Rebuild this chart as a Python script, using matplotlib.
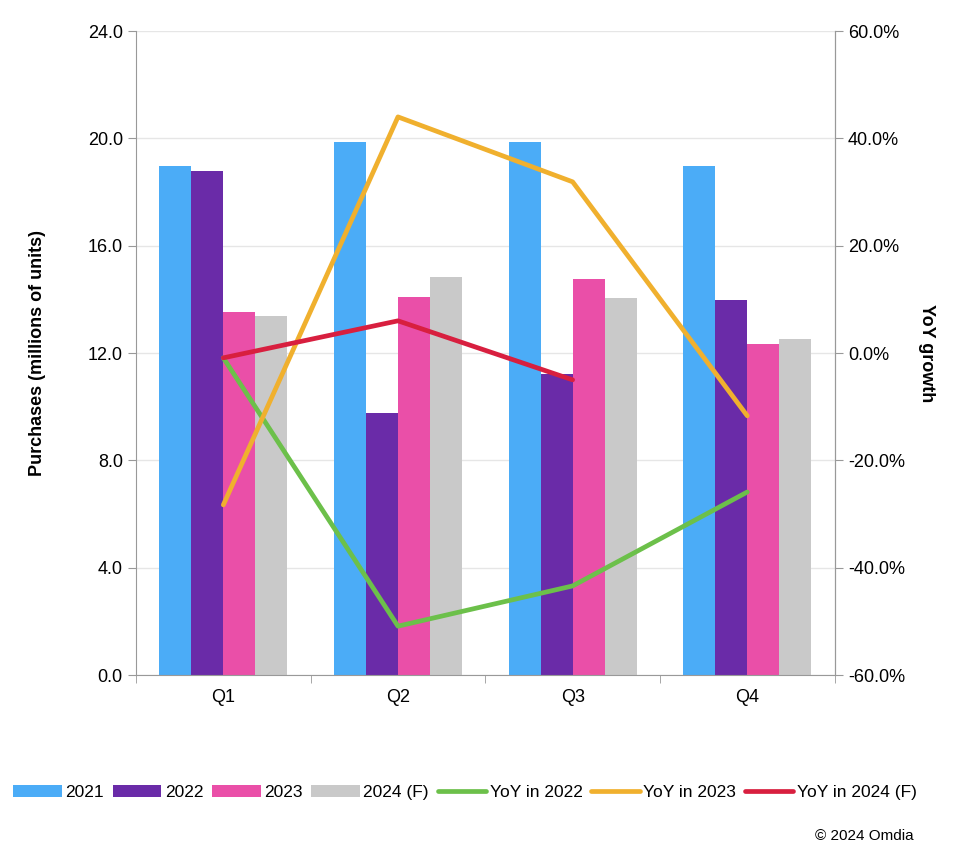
import numpy as np
import matplotlib.pyplot as plt
from matplotlib.ticker import FormatStrFormatter, FuncFormatter

plt.rcParams['font.family'] = ['Liberation Sans', 'DejaVu Sans']

quarters = ['Q1', 'Q2', 'Q3', 'Q4']
years = ['2021', '2022', '2023', '2024 (F)']
purchases = {
    '2021': [18.97, 19.87, 19.87, 18.97],
    '2022': [18.8, 9.77, 11.2, 13.98],
    '2023': [13.53, 14.09, 14.76, 12.34],
    '2024 (F)': [13.38, 14.83, 14.05, 12.52],
}
yoy_labels = ['YoY in 2022', 'YoY in 2023', 'YoY in 2024 (F)']
yoy_2022 = [-0.9, -50.9, -43.4, -25.9]
yoy_2023 = [-28.3, 44.0, 31.9, -11.7]
yoy_2024 = [-0.9, 6.0, -5.0]

bar_colors = ['#4BACF7', '#6A2BA8', '#EA4FA8', '#C9C9C9']
line_colors = ['#6CC04A', '#F0B02E', '#D81F3F']

fig = plt.figure(figsize=(9.75, 8.48), dpi=100)
ax = fig.add_axes([0.1395, 0.204, 0.7165, 0.7594])

x = np.arange(len(quarters))
w = 0.183
for i, yr in enumerate(years):
    ax.bar(x + (i - 1.5) * w, purchases[yr], w, color=bar_colors[i], label=yr, zorder=2)

ax.set_xlim(-0.5, 3.5)
ax.set_ylim(0, 24)
ax.set_yticks(np.arange(0, 25, 4))
ax.yaxis.set_major_formatter(FormatStrFormatter('%.1f'))
ax.set_xticks(x)
ax.set_xticklabels(quarters)
ax.set_xticks(np.arange(-0.5, 4, 1), minor=True)
ax.tick_params(axis='x', which='major', length=0, pad=10, labelsize=13)
ax.tick_params(axis='x', which='minor', length=6, color='#999999')
ax.tick_params(axis='y', length=6, color='#999999', labelsize=13)
ax.grid(axis='y', color='#E6E6E6', linewidth=1, zorder=0)
ax.set_axisbelow(True)
ax.spines['top'].set_visible(False)
for s in ['left', 'right', 'bottom']:
    ax.spines[s].set_color('#999999')
ax.set_ylabel('Purchases (millions of units)', fontsize=13, fontweight='bold', labelpad=30)

ax2 = ax.twinx()
ax2.plot(x, yoy_2022, color=line_colors[0], lw=3.4, label=yoy_labels[0], solid_capstyle='round')
ax2.plot(x, yoy_2023, color=line_colors[1], lw=3.4, label=yoy_labels[1], solid_capstyle='round')
ax2.plot(x[:3], yoy_2024, color=line_colors[2], lw=3.4, label=yoy_labels[2], solid_capstyle='round')
ax2.set_ylim(-60, 60)
ax2.set_yticks(np.arange(-60, 61, 20))
ax2.yaxis.set_major_formatter(FuncFormatter(lambda v, p: f'{v:.1f}%'))
ax2.tick_params(axis='y', length=6, color='#999999', labelsize=13)
for s in ['top', 'left', 'bottom']:
    ax2.spines[s].set_visible(False)
ax2.spines['right'].set_color('#999999')
ax2.set_ylabel('YoY growth', fontsize=13, fontweight='bold', rotation=-90, labelpad=22)

h1, l1 = ax.get_legend_handles_labels()
h2, l2 = ax2.get_legend_handles_labels()
fig.legend(h1 + h2, l1 + l2, loc='center', bbox_to_anchor=(0.477, 0.065), ncol=7,
           frameon=False, fontsize=12.5, handlelength=2.8, handletextpad=0.2,
           columnspacing=0.5)

fig.text(0.937, 0.006, '© 2024 Omdia', ha='right', va='bottom', fontsize=11)

plt.savefig('out.png', dpi=100)
